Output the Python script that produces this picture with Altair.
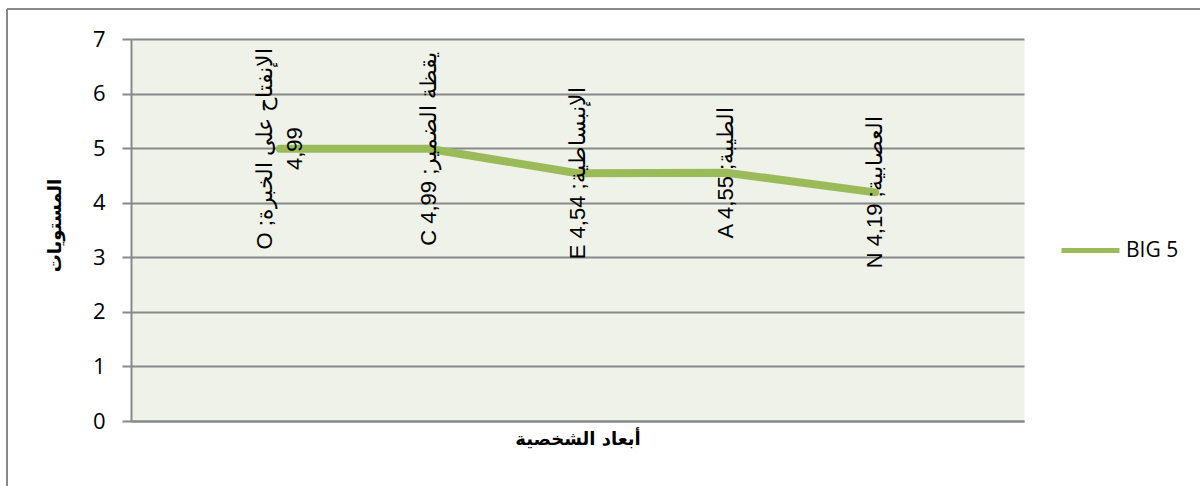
import altair as alt
import pandas as pd

# ---- data ----
categories = ["O", "C", "E", "A", "N"]
values = [4.99, 4.99, 4.54, 4.55, 4.19]
point_labels = [
    "O ;الإنفتاح على الخبرة\n4,99",
    "C 4,99 ;يقظة الضمير",
    "E 4,54 ;الإنبساطية",
    "A 4,55 ;الطيبة",
    "N 4,19 ;العصابية",
]
series_name = ["BIG 5"] * 5
y_ticks = [0, 1, 2, 3, 4, 5, 6, 7]

x_title = "أبعاد الشخصية"
y_title = "المستويات"

GREEN = "#9BBB59"
GRAY = "#888888"
LINE_H = 30

df = pd.DataFrame({"cat": categories, "value": values,
                   "label": point_labels, "series": series_name})

x_enc = alt.X(
    "cat:N", sort=categories,
    scale=alt.Scale(type="point", padding=1),
    axis=alt.Axis(title=x_title, labels=False, ticks=False, grid=False,
                  domainColor=GRAY, domainWidth=2,
                  titleFont="DejaVu Sans", titleFontSize=18, titleFontWeight="bold",
                  titleColor="black", titlePadding=9),
)
y_enc = alt.Y(
    "value:Q",
    scale=alt.Scale(domain=[0, 7], nice=False),
    axis=alt.Axis(title=y_title, values=y_ticks, format="d", grid=True, gridColor=GRAY, gridWidth=2,
                  domainColor=GRAY, domainWidth=2, tickColor=GRAY, tickWidth=2, tickSize=9,
                  labelFont="Open Sans", labelFontSize=22, labelColor="black", labelPadding=17,
                  titleFont="DejaVu Sans", titleFontSize=18, titleFontWeight="bold",
                  titleColor="black", titleAngle=270, titleX=-76, titleY=186,
                  titleAlign="center", titleBaseline="middle"),
)

line = alt.Chart(df).mark_line(strokeWidth=8, strokeCap="round", strokeJoin="round").encode(
    x=x_enc, y=y_enc,
    color=alt.Color("series:N", scale=alt.Scale(range=[GREEN]),
                    legend=alt.Legend(title=None, orient="none", legendX=928, legendY=180,
                                      symbolType="stroke", symbolSize=3364,
                                      symbolStrokeWidth=5, labelFont="Open Sans",
                                      labelFontSize=21, labelColor="black", labelOffset=4)),
)

text_style = dict(angle=270, align="center", baseline="middle", fontSize=22,
                  font="Liberation Sans", lineBreak="\n", lineHeight=LINE_H, color="black")

single = alt.Chart(df).transform_filter(
    "indexof(datum.label, '\\n') < 0"
).mark_text(**text_style).encode(
    x=alt.X("cat:N", sort=categories), y="value:Q", text="label:N")

# two-line labels: centre the block on the point (rotated frame, dy moves across lines)
multi = alt.Chart(df).transform_filter(
    "indexof(datum.label, '\\n') >= 0"
).mark_text(dy=-LINE_H / 2, **text_style).encode(
    x=alt.X("cat:N", sort=categories), y="value:Q", text="label:N")

frame_df = pd.DataFrame({"k": [0]})
frame_left = alt.Chart(frame_df).mark_rule(color=GRAY, strokeWidth=2).encode(
    x=alt.value(-124), y=alt.value(-30), y2=alt.value(460))
frame_top = alt.Chart(frame_df).mark_rule(color=GRAY, strokeWidth=2).encode(
    x=alt.value(-124), x2=alt.value(1080), y=alt.value(-30))

chart = alt.layer(line, single, multi, frame_left, frame_top).properties(
    width=893, height=382,
    autosize=alt.AutoSizeParams(type="none"),
    padding={"left": 131, "top": 39, "right": 176, "bottom": 65},
    background="white",
).configure_view(fill="#EFF2E8", stroke="transparent")

chart.save("out.html", embed_options={"renderer": "svg", "actions": False})
